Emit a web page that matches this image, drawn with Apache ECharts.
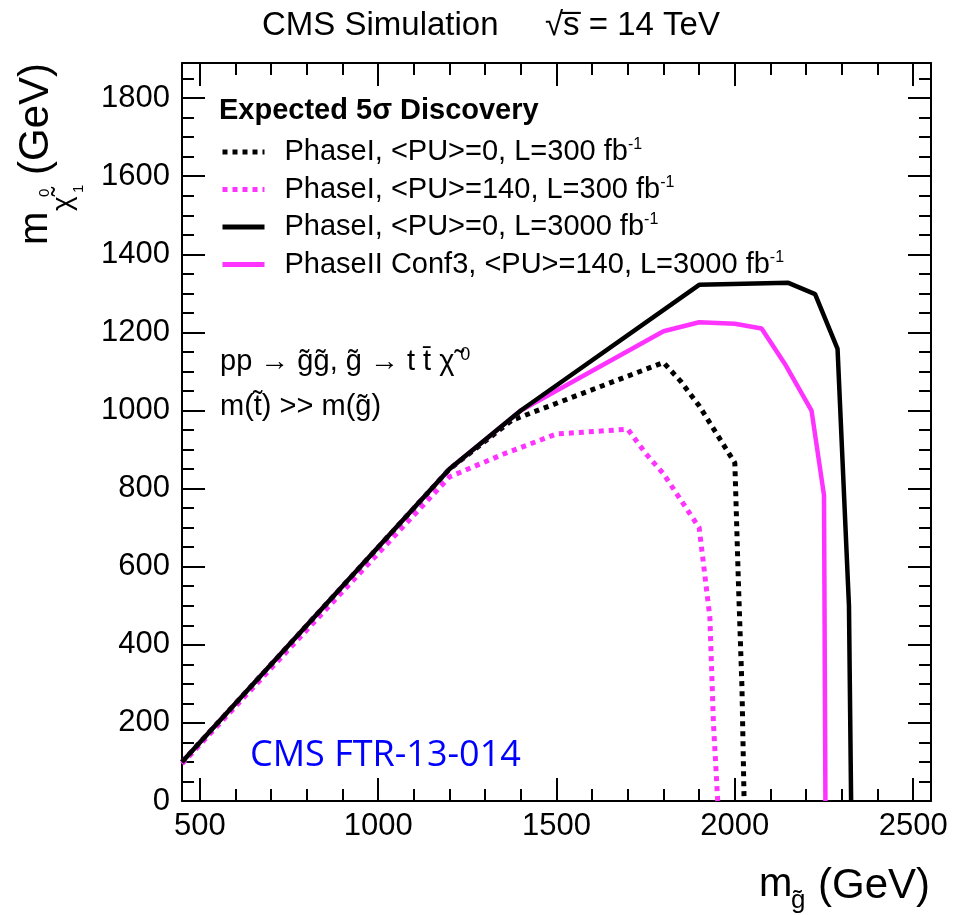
<!DOCTYPE html>
<html>
<head>
<meta charset="utf-8">
<script src="https://cdn.jsdelivr.net/npm/echarts@6/dist/echarts.min.js"></script>
<style>
html,body{margin:0;padding:0;background:#fff;}
#chart{width:958px;height:915px;}
</style>
</head>
<body>
<div id="chart"></div>
<script>
// ---- data ----
var seriesNames = [
  'PhaseI, <PU>=0, L=300 fb',
  'PhaseI, <PU>=140, L=300 fb',
  'PhaseI, <PU>=0, L=3000 fb',
  'PhaseII Conf3, <PU>=140, L=3000 fb'
];
var pu0L300X   = [450, 1200, 1375, 1800, 1850, 1900, 2000, 2010, 2020, 2026];
var pu0L300Y   = [100,  850,  975, 1123, 1073, 1012,  866,  560,  290,    0];
var pu140L300X = [450, 1200, 1350, 1500, 1700, 1750, 1800, 1900, 1930, 1940, 1952];
var pu140L300Y = [ 95,  830,  888,  940,  952,  890,  838,  700,  470,  200,    0];
var pu0L3000X  = [450, 1200, 1400, 1900, 2150, 2225, 2288, 2320, 2326];
var pu0L3000Y  = [100,  850, 1000, 1322, 1327, 1298, 1158,  500,    0];
var conf3X     = [450, 1200, 1400, 1800, 1900, 2000, 2075, 2140, 2215, 2250, 2254];
var conf3Y     = [100,  850, 1000, 1203, 1226, 1222, 1210, 1120, 1000,  783,    0];

// axis ranges and tick steps (labels: 500..2500 and 0..1800)
var X_MIN = 450, X_MAX = 2550, X_LABEL_STEP = 500, X_MINOR_SPLIT = 5;
var Y_MIN = 0, Y_MAX = 1890, Y_LABEL_STEP = 200, Y_MINOR_SPLIT = 4;

function pairs(xs, ys) { return xs.map(function (x, i) { return [x, ys[i]]; }); }

var MAG = '#ff33ff';
var FONT = 'Liberation Sans';

function makeAxis(isX, pos, withLabels) {
  var step = isX ? X_LABEL_STEP : Y_LABEL_STEP;
  return {
    type: 'value', position: pos,
    min: isX ? X_MIN : Y_MIN, max: isX ? X_MAX : Y_MAX,
    splitNumber: isX ? 5 : 9,
    splitLine: { show: false },
    axisLine: { show: true, onZero: false, lineStyle: { color: '#000', width: 2 } },
    axisTick: { show: true, inside: true, length: 23, lineStyle: { color: '#000', width: 2 } },
    minorTick: { show: true, splitNumber: isX ? X_MINOR_SPLIT : Y_MINOR_SPLIT, length: 12, lineStyle: { color: '#000', width: 2 } },
    minorSplitLine: { show: false },
    axisLabel: {
      show: withLabels, fontFamily: FONT, fontSize: 31, color: '#000', margin: isX ? 10 : 12,
      formatter: function (v) { return (Math.abs(v % step) < 1e-6) ? String(v) : ''; }
    }
  };
}

var chart = echarts.init(document.getElementById('chart'), null, { renderer: 'canvas' });

var legendRich = {
  t: { fontFamily: FONT, fontSize: 29, color: '#000', lineHeight: 30, padding: [0, 0, 0, 15] },
  s: { fontFamily: FONT, fontSize: 16, color: '#000', verticalAlign: 'top', lineHeight: 14 }
};

var option = {
  backgroundColor: '#fff',
  animation: false,
  grid: { left: 182, right: 27, top: 63, bottom: 114, containLabel: false },
  xAxis: [ makeAxis(true, 'bottom', true), makeAxis(true, 'top', false) ],
  yAxis: [ makeAxis(false, 'left', true), makeAxis(false, 'right', false) ],
  legend: {
    orient: 'vertical', left: 215, top: 132,
    itemWidth: 42, itemHeight: 14, itemGap: 8,
    data: seriesNames,
    itemStyle: { color: 'rgba(0,0,0,0)', borderColor: 'rgba(0,0,0,0)', borderWidth: 0, opacity: 0 },
    lineStyle: { width: 5 },
    textStyle: { rich: legendRich },
    formatter: function (name) { return '{t|' + name + '}{s|-1}'; },
    selectedMode: false
  },
  series: [
    { name: seriesNames[1], type: 'line', data: pairs(pu140L300X, pu140L300Y), symbol: 'none',
      lineStyle: { color: MAG, width: 5, type: [5, 5], cap: 'butt' }, itemStyle: { color: MAG } },
    { name: seriesNames[0], type: 'line', data: pairs(pu0L300X, pu0L300Y), symbol: 'none',
      lineStyle: { color: '#000', width: 5, type: [5, 5], cap: 'butt' }, itemStyle: { color: '#000' } },
    { name: seriesNames[3], type: 'line', data: pairs(conf3X, conf3Y), symbol: 'none',
      lineStyle: { color: MAG, width: 4.5 }, itemStyle: { color: MAG } },
    { name: seriesNames[2], type: 'line', data: pairs(pu0L3000X, pu0L3000Y), symbol: 'none',
      lineStyle: { color: '#000', width: 4.5 }, itemStyle: { color: '#000' } }
  ],
  graphic: [
    { type: 'text', left: 262, top: 9, style: { text: 'CMS Simulation', fontFamily: FONT, fontSize: 33, fill: '#000' } },
    { type: 'text', left: 545, top: 9, style: { text: '\u221As\u0305 = 14 TeV', fontFamily: FONT, fontSize: 33, fill: '#000' } },
    { type: 'text', left: 219, top: 96, style: { text: 'Expected 5\u03C3 Discovery', fontFamily: FONT, fontWeight: 'bold', fontSize: 29, fill: '#000' } },
    { type: 'text', left: 220, top: 346, style: {
        text: '{t|pp \u2192 g\u0303g\u0303, g\u0303 \u2192 t t\u0304 \u03C7\u0303\u2009}{s|0}',
        rich: { t: { fontFamily: FONT, fontSize: 29, fill: '#000', lineHeight: 32 }, s: { fontFamily: FONT, fontSize: 18, fill: '#000', verticalAlign: 'top', lineHeight: 14 } } } },
    { type: 'text', left: 220, top: 392, style: { text: 'm(t\u0303) >> m(g\u0303)', fontFamily: FONT, fontSize: 29, fill: '#000' } },
    { type: 'text', left: 250, top: 738, style: { text: 'CMS FTR-13-014', fontFamily: 'Open Sans', fontSize: 36, fill: '#0000ff' } },
    // x-axis title
    { type: 'text', left: 759, top: 865, style: { text: 'm', fontFamily: FONT, fontSize: 40, fill: '#000' } },
    { type: 'text', left: 791, top: 888, style: { text: 'g\u0303', fontFamily: FONT, fontSize: 26, fill: '#000' } },
    { type: 'text', left: 818, top: 865, style: { text: '(GeV)', fontFamily: FONT, fontSize: 42, fill: '#000' } },
    // y-axis title (rotated)
    { type: 'group', x: 36, y: 245, rotation: Math.PI / 2, children: [
      { type: 'text', x: 0, y: 0, style: { text: 'm', fontFamily: FONT, fontSize: 40, fill: '#000', textVerticalAlign: 'middle' } },
      { type: 'text', x: 34, y: 27, style: { text: '\u03C7\u0303', fontFamily: FONT, fontSize: 28, fill: '#000', textVerticalAlign: 'middle' } },
      { type: 'text', x: 52, y: 43, style: { text: '1', fontFamily: FONT, fontSize: 15, fill: '#000', textVerticalAlign: 'middle' } },
      { type: 'text', x: 48, y: 9, style: { text: '0', fontFamily: FONT, fontSize: 15, fill: '#000', textVerticalAlign: 'middle' } },
      { type: 'text', x: 70, y: 0, style: { text: '(GeV)', fontFamily: FONT, fontSize: 42, fill: '#000', textVerticalAlign: 'middle' } }
    ] }
  ]
};
chart.setOption(option);
</script>
</body>
</html>
